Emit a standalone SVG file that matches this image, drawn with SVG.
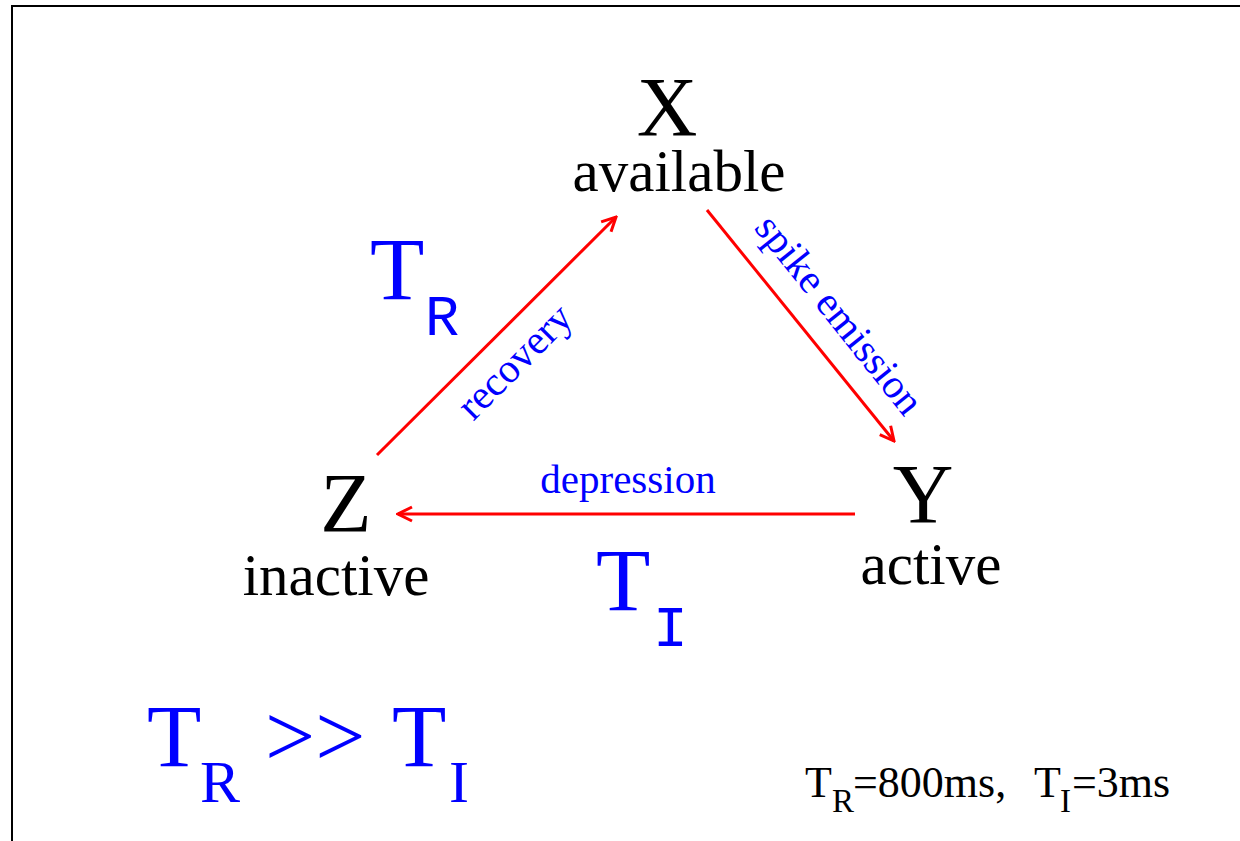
<svg xmlns="http://www.w3.org/2000/svg" width="1240" height="841" viewBox="0 0 1240 841">
<defs>
<style>
.node{font-family:"Liberation Serif","Times New Roman",serif;fill:#000}
.big{font-size:84px}
.lbl{font-size:59px}
.edge{font-family:"Liberation Serif","Times New Roman",serif;fill:#0000ff;font-size:41px}
.conn{stroke:#ff0000;stroke-width:3;fill:none}
.tau{font-family:"Liberation Serif","Times New Roman",serif;fill:#0000ff}
.mono{font-family:"Courier New","Liberation Mono",monospace}
</style>
<marker id="ah" viewBox="-16 -9 18 18" markerWidth="18" markerHeight="18" refX="0" refY="0" orient="auto" markerUnits="userSpaceOnUse">
<path d="M -14 -7 L 0 0 L -14 7" fill="none" stroke="#ff0000" stroke-width="3"/>
</marker>
</defs>
<rect width="1240" height="841" fill="#fff"/>
<path d="M 12 841 L 12 6 L 1240 6" fill="none" stroke="#000" stroke-width="2"/>
<g id="connectors">
<line class="conn" x1="377" y1="455" x2="616" y2="217" marker-end="url(#ah)"/>
<line class="conn" x1="707" y1="210" x2="894" y2="441" marker-end="url(#ah)"/>
<line class="conn" x1="855" y1="514" x2="398" y2="514" marker-end="url(#ah)"/>
<text class="edge" x="524" y="371" text-anchor="middle" transform="rotate(-45 524 371)">recovery</text>
<text class="edge" x="829" y="323" text-anchor="middle" transform="rotate(51.4 829 323)">spike emission</text>
<text class="edge" x="628" y="493" text-anchor="middle">depression</text>
</g>
<g id="node-x">
<text class="node big" x="667" y="136" text-anchor="middle">X</text>
<text class="node lbl" x="679" y="191" text-anchor="middle">available</text>
</g>
<g id="node-y">
<text class="node big" x="923" y="523" text-anchor="middle">Y</text>
<text class="node lbl" x="931" y="584" text-anchor="middle" font-size="58">active</text>
</g>
<g id="node-z">
<text class="node big" x="346" y="532" text-anchor="middle">Z</text>
<text class="node lbl" x="336" y="595" text-anchor="middle">inactive</text>
</g>
<g id="tau-r">
<text class="tau" x="370" y="299" font-size="89">T</text>
<text class="tau mono" x="425" y="335" font-size="57">R</text>
</g>
<g id="tau-i">
<text class="tau" x="596" y="610" font-size="89">T</text>
<text class="tau mono" x="653" y="646" font-size="58">I</text>
</g>
<g id="inequality">
<text class="tau" font-size="89"><tspan x="147" y="766">T</tspan><tspan x="200" y="802" font-size="60">R</tspan><tspan x="265" y="766">&gt;&gt;</tspan><tspan x="392" y="766">T</tspan><tspan x="449" y="802" font-size="60">I</tspan></text>
</g>
<g id="values">
<text class="node" font-size="44"><tspan x="805" y="797">T</tspan><tspan x="832" y="812" font-size="33">R</tspan><tspan x="853" y="797">=800ms,</tspan><tspan x="1034" y="797">T</tspan><tspan x="1060" y="812" font-size="33">I</tspan><tspan x="1072" y="797">=3ms</tspan></text>
</g>
</svg>
